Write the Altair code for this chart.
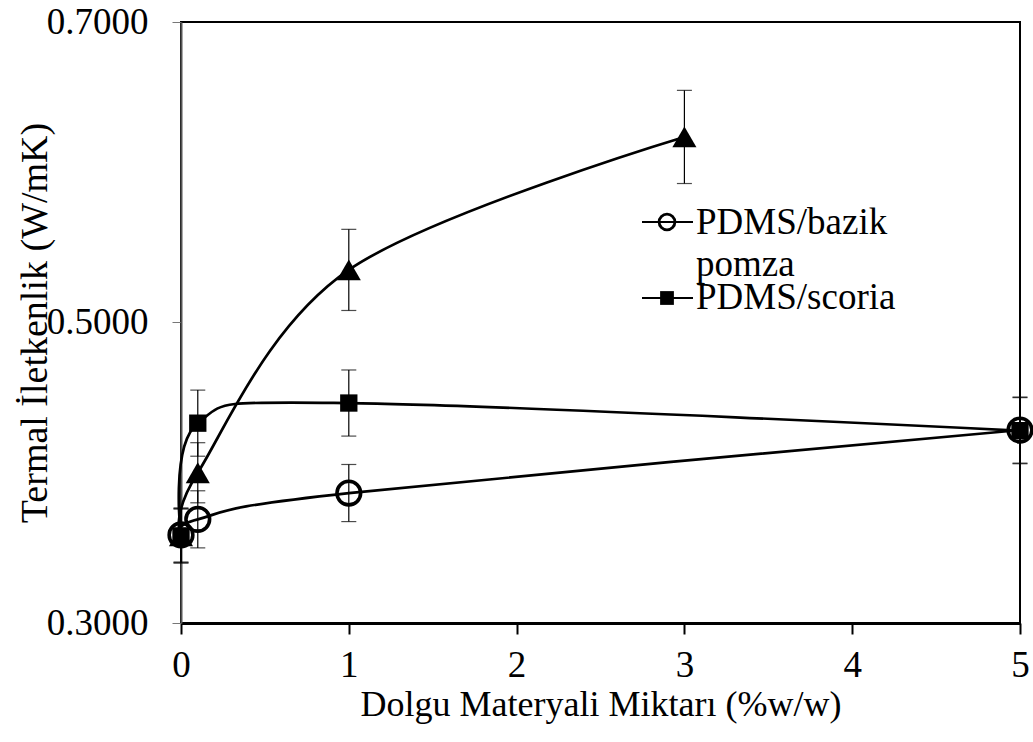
import altair as alt
import pandas as pd

# ---- data ----
x_circle = [0, 0.1, 1, 5]
y_circle = [0.3586, 0.369, 0.3865, 0.4284]
e_circle = [0.018, 0.019, 0.019, 0.022]

x_square = [0, 0.1, 1, 5]
y_square = [0.358, 0.433, 0.4464, 0.428]
e_square = [0.018, 0.022, 0.022, 0.022]

x_tri = [0, 0.1, 1, 3]
y_tri = [0.358, 0.400, 0.535, 0.6235]
e_tri = [0.018, 0.020, 0.027, 0.031]

series_names = ["PDMS/bazik pomza", "PDMS/scoria", "PDMS/üçgen"]
legend_lines = ["PDMS/bazik", "pomza", "PDMS/scoria"]
legend_baselines = [234, 276, 309]  # page pixel rows

FONT = "Liberation Serif"

rows = []
for name, xs_, ys_, es_ in zip(series_names, [x_circle, x_square, x_tri],
                               [y_circle, y_square, y_tri], [e_circle, e_square, e_tri]):
    for xv, yv, ev in zip(xs_, ys_, es_):
        rows.append({"series": name, "x": xv, "y": yv, "lo": yv - ev, "hi": yv + ev})
df = pd.DataFrame(rows)

xs = alt.Scale(domain=[0, 5], nice=False, zero=False)
ys = alt.Scale(domain=[0.3, 0.7], nice=False, zero=False)

X = alt.X("x:Q", scale=xs, title="Dolgu Materyali Miktarı (%w/w)",
          axis=alt.Axis(values=[0, 1, 2, 3, 4, 5], format="d", grid=False, labelFlush=False,
                        domainColor="black", domainWidth=3, tickColor="black",
                        tickWidth=2, tickSize=11, labelFontSize=37, labelPadding=13,
                        titleFontSize=36, titleBaseline="alphabetic", titleY=92,
                        labelFont=FONT, titleFont=FONT,
                        titleFontWeight="normal", labelColor="black", titleColor="black"))
Y = alt.Y("y:Q", scale=ys, title="Termal İletkenlik (W/mK)",
          axis=alt.Axis(values=[0.3, 0.5, 0.7], format=".4f", grid=False, labelFlush=False,
                        domainColor="#555555", domainWidth=2, tickColor="#777777",
                        tickWidth=1, tickSize=9, labelFontSize=37, labelPadding=24,
                        titleFontSize=38, titleBaseline="alphabetic", titleX=-135,
                        labelFont=FONT, titleFont=FONT,
                        titleFontWeight="normal", labelColor="black", titleColor="black"))

base = alt.Chart(df)

lines = base.mark_line(interpolate="cardinal", color="black", strokeWidth=2.7).encode(
    x=X, y=Y, detail="series:N")

err = base.mark_rule(color="black", strokeWidth=1.2).encode(
    x=X, y=alt.Y("lo:Q", scale=ys), y2="hi:Q")
cap_lo = base.mark_tick(orient="horizontal", color="black", size=15, thickness=1.2).encode(
    x=X, y=alt.Y("lo:Q", scale=ys))
cap_hi = base.mark_tick(orient="horizontal", color="black", size=15, thickness=1.2).encode(
    x=X, y=alt.Y("hi:Q", scale=ys))

circles = base.transform_filter(alt.datum.series == series_names[0]).mark_point(
    shape="circle", filled=False, color="black", strokeWidth=3.6, size=560, opacity=1).encode(x=X, y=Y)
squares = base.transform_filter(alt.datum.series == series_names[1]).mark_point(
    shape="square", filled=True, color="black", size=300, opacity=1).encode(x=X, y=Y)
tris = base.transform_filter(alt.datum.series == series_names[2]).mark_point(
    shape="triangle-up", filled=True, color="black", size=580, opacity=1).encode(x=X, y=Y)

# ---- manual legend (pixel positions inside the plot area: origin = (181, 22)) ----
leg_texts = []
for lab, ty in zip(legend_lines, legend_baselines):
    leg_texts.append(alt.Chart(pd.DataFrame({"label": [lab]})).mark_text(
        align="left", baseline="alphabetic", font=FONT, fontSize=37, color="black").encode(
        x=alt.value(515), y=alt.value(ty - 22), text="label:N"))

one = pd.DataFrame({"a": [0]})
leg_line1 = alt.Chart(one).mark_rule(color="black", strokeWidth=2.2).encode(
    x=alt.value(461), x2=alt.value(512), y=alt.value(200))
leg_line2 = alt.Chart(one).mark_rule(color="black", strokeWidth=2.2).encode(
    x=alt.value(461), x2=alt.value(512), y=alt.value(276))
leg_circ = alt.Chart(one).mark_point(
    shape="circle", filled=False, color="black", strokeWidth=2.8, size=250, opacity=1).encode(
    x=alt.value(486), y=alt.value(200))
leg_sq = alt.Chart(one).mark_point(
    shape="square", filled=True, color="black", size=190, opacity=1).encode(
    x=alt.value(486), y=alt.value(276))

chart = alt.layer(lines, err, cap_lo, cap_hi, circles, tris, squares,
                  leg_line1, leg_line2, leg_circ, leg_sq, *leg_texts).properties(
    width=839, height=601,
    autosize=alt.AutoSizeParams(type="none"),
    padding={"left": 181, "top": 22, "right": 13, "bottom": 119},
).configure(background="white").configure_view(stroke="black", strokeWidth=2)

chart.save("out.html", embed_options={"renderer": "svg", "actions": False})
